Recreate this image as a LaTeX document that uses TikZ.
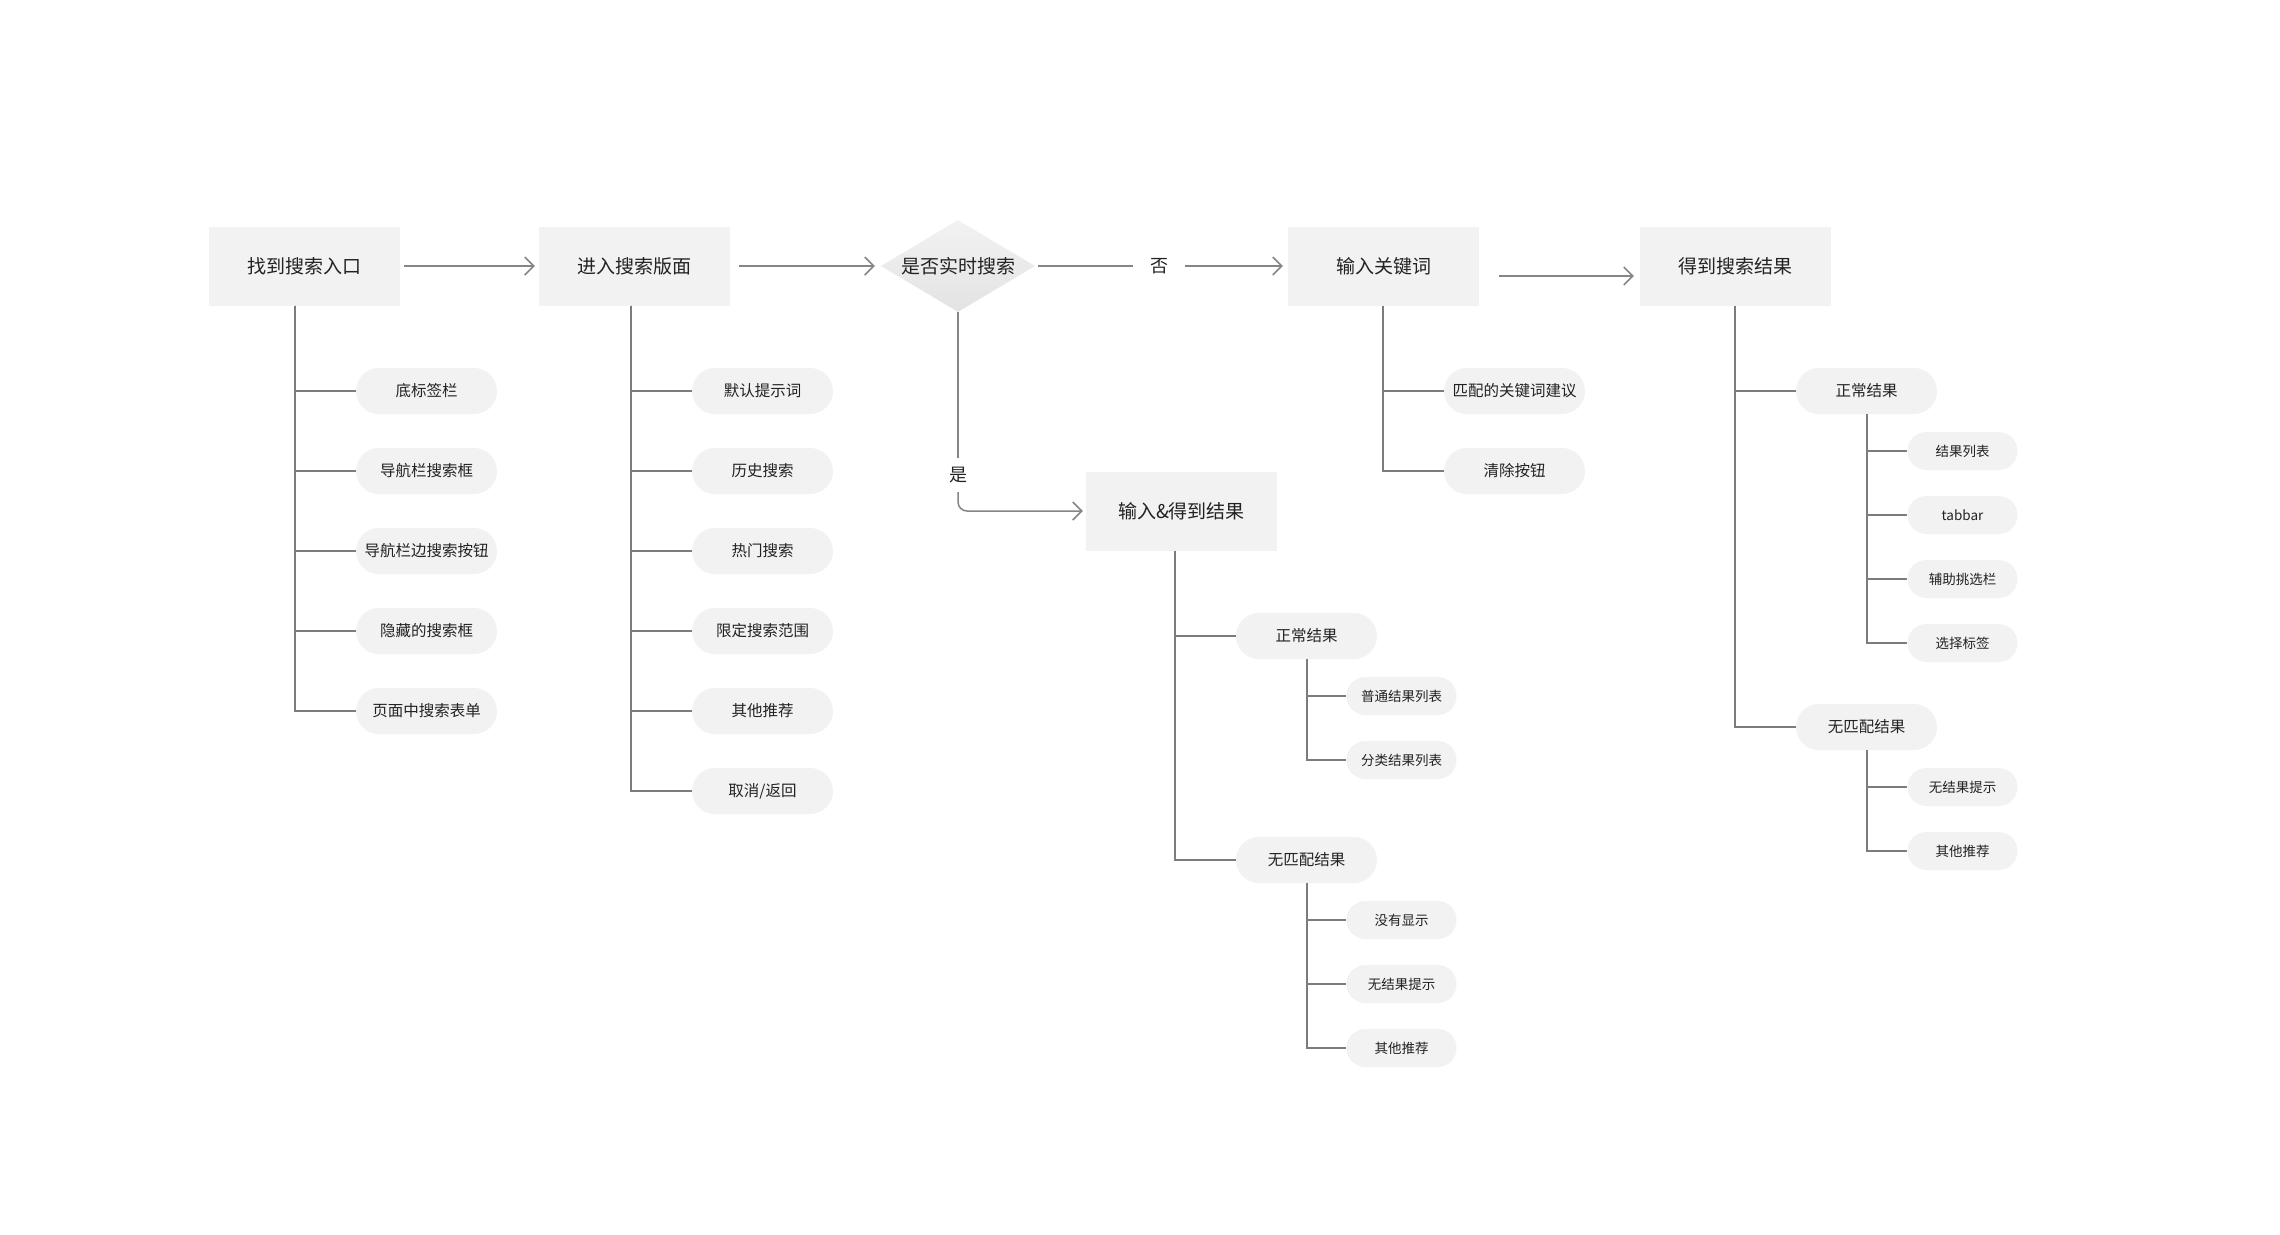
\documentclass[tikz,border=0pt]{standalone}
\usepackage{fontspec}
\setmainfont{Noto Sans CJK SC}
\usetikzlibrary{shapes.geometric,arrows.meta}
\definecolor{boxfill}{HTML}{F2F2F2}
\definecolor{txt}{HTML}{222222}
\definecolor{treeln}{HTML}{7C7C7C}
\definecolor{flowln}{HTML}{858585}
\begin{document}
\begin{tikzpicture}[x=1pt,y=-1pt,
 mainbox/.style={fill=boxfill, minimum width=191pt, minimum height=79pt, inner sep=0pt, font=\fontsize{19}{19}\selectfont, text=txt},
 pill/.style={fill=boxfill, minimum width=141pt, minimum height=46pt, rounded corners=23pt, inner sep=0pt, font=\fontsize{15.5}{15.5}\selectfont, text=txt},
 spill/.style={fill=boxfill, minimum width=110pt, minimum height=38pt, rounded corners=19pt, inner sep=0pt, font=\fontsize{13.5}{13.5}\selectfont, text=txt},
 lbl/.style={inner sep=0pt, font=\fontsize{18}{18}\selectfont, text=txt},
 tree/.style={draw=treeln, line width=2pt},
 flow/.style={draw=flowln, line width=1.5pt, -{Straight Barb[length=9pt,width=18pt,line width=1.5pt]}},
 ]
\fill[white] (0,0) rectangle (2280,1234);
\useasboundingbox (0,0) rectangle (2280,1234);

% main row
\node[mainbox] (b1) at (304.5,266) {找到搜索入口};
\node[mainbox] (b2) at (634.5,266) {进入搜索版面};
\node[diamond, aspect=1.67, minimum width=154pt, minimum height=92pt, inner sep=0pt,
      top color=boxfill, bottom color=black!11, font=\fontsize{19}{19}\selectfont, text=txt] (d) at (958,266) {是否实时搜索};
\node[mainbox] (b3) at (1383.5,266) {输入关键词};
\node[mainbox] (b4) at (1735.5,266) {得到搜索结果};
\node[mainbox] (b5) at (1181.5,511) {输入\&得到结果};
\node[lbl, minimum width=52pt] (no) at (1159,266) {否};
\node[lbl, minimum height=34pt] (yes) at (958,475) {是};

\draw[flow, shorten <=4pt, shorten >=4pt] (b1.east) -- (b2.west);
\draw[flow, shorten <=9pt, shorten >=6pt] (b2.east) -- (d.west);
\draw[draw=flowln, line width=1.5pt, shorten <=3pt] (d.east) -- (no.west);
\draw[flow, shorten >=5pt] (no.east) -- (b3.west);
\draw[flow, shorten <=20pt, shorten >=6pt] ([yshift=-10pt]b3.east) -- ([yshift=-10pt]b4.west);
\draw[draw=flowln, line width=1.5pt] (d.south) -- (yes.north);
\draw[flow, rounded corners=9pt, shorten >=3pt] (yes.south) |- (b5.west);

% column 1
\coordinate (t1) at (295,0);
\node[pill] (p11) at (426.5,391) {底标签栏};
\node[pill] (p12) at (426.5,471) {导航栏搜索框};
\node[pill] (p13) at (426.5,551) {导航栏边搜索按钮};
\node[pill] (p14) at (426.5,631) {隐藏的搜索框};
\node[pill] (p15) at (426.5,711) {页面中搜索表单};
\foreach \p in {p11,p12,p13,p14,p15} \draw[tree] (b1.south -| t1) |- (\p.west);

% column 2
\coordinate (t2) at (631,0);
\node[pill] (p21) at (762.5,391) {默认提示词};
\node[pill] (p22) at (762.5,471) {历史搜索};
\node[pill] (p23) at (762.5,551) {热门搜索};
\node[pill] (p24) at (762.5,631) {限定搜索范围};
\node[pill] (p25) at (762.5,711) {其他推荐};
\node[pill] (p26) at (762.5,791) {取消/返回};
\foreach \p in {p21,p22,p23,p24,p25,p26} \draw[tree] (b2.south -| t2) |- (\p.west);

% column 3
\coordinate (t3) at (1383,0);
\node[pill] (p31) at (1514.5,391) {匹配的关键词建议};
\node[pill] (p32) at (1514.5,471) {清除按钮};
\foreach \p in {p31,p32} \draw[tree] (b3.south -| t3) |- (\p.west);

% column 5 (input & get results)
\coordinate (t5) at (1175,0);
\node[pill] (q1) at (1306.5,636) {正常结果};
\node[pill] (q2) at (1306.5,860) {无匹配结果};
\foreach \p in {q1,q2} \draw[tree] (b5.south -| t5) |- (\p.west);
\node[spill] (q11) at (1401.5,696) {普通结果列表};
\node[spill] (q12) at (1401.5,760) {分类结果列表};
\foreach \p in {q11,q12} \draw[tree] (q1.south) |- (\p.west);
\node[spill] (q21) at (1401.5,920) {没有显示};
\node[spill] (q22) at (1401.5,984) {无结果提示};
\node[spill] (q23) at (1401.5,1048) {其他推荐};
\foreach \p in {q21,q22,q23} \draw[tree] (q2.south) |- (\p.west);

% column 4 (results)
\coordinate (t4) at (1735,0);
\node[pill] (r1) at (1866.5,391) {正常结果};
\node[pill] (r2) at (1866.5,727) {无匹配结果};
\foreach \p in {r1,r2} \draw[tree] (b4.south -| t4) |- (\p.west);
\node[spill] (r11) at (1962.5,451) {结果列表};
\node[spill] (r12) at (1962.5,515) {tabbar};
\node[spill] (r13) at (1962.5,579) {辅助挑选栏};
\node[spill] (r14) at (1962.5,643) {选择标签};
\foreach \p in {r11,r12,r13,r14} \draw[tree] (r1.south) |- (\p.west);
\node[spill] (r21) at (1962.5,787) {无结果提示};
\node[spill] (r22) at (1962.5,851) {其他推荐};
\foreach \p in {r21,r22} \draw[tree] (r2.south) |- (\p.west);
\end{tikzpicture}
\end{document}
